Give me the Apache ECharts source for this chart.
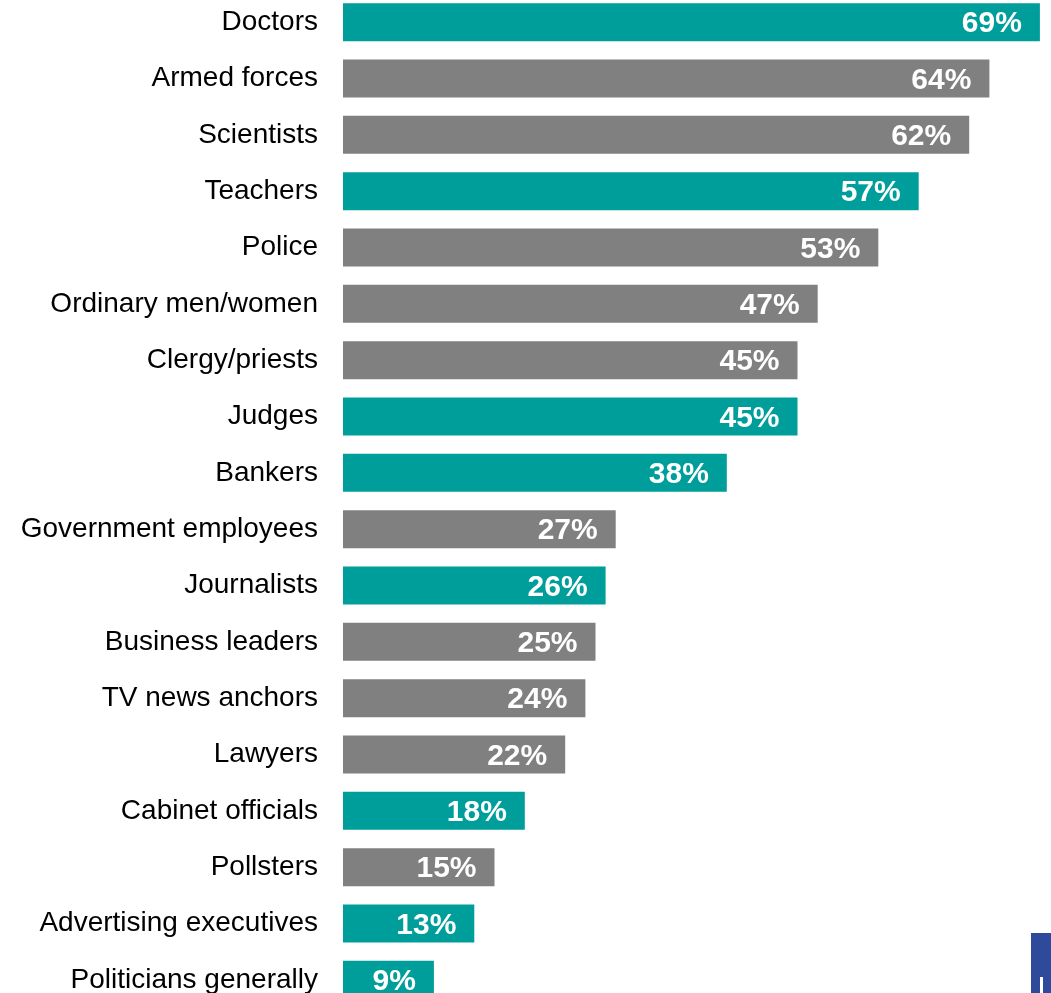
<!DOCTYPE html>
<html><head><meta charset="utf-8">
<script src="https://cdn.jsdelivr.net/npm/echarts@6/dist/echarts.min.js"></script>
<style>html,body{margin:0;padding:0;background:#fff;overflow:hidden;width:1051px;height:993px}#c{position:absolute;left:0;top:-6px;width:1051px;height:1014px}</style>
</head><body><div id="c"></div>
<script>
const categories = ["Doctors","Armed forces","Scientists","Teachers","Police","Ordinary men/women","Clergy/priests","Judges","Bankers","Government employees","Journalists","Business leaders","TV news anchors","Lawyers","Cabinet officials","Pollsters","Advertising executives","Politicians generally"];
const values = [69,64,62,57,53,47,45,45,38,27,26,25,24,22,18,15,13,9];
const highlighted = [true,false,false,true,false,false,false,true,true,false,true,false,false,false,true,false,true,true];
const TEAL = "#009E9A", GRAY = "#808080";

const chart = echarts.init(document.getElementById('c'));
chart.setOption({
  animation:false,
  grid:{left:343, top:0, width:707, height:1014, containLabel:false},
  xAxis:{type:'value', min:0, max:70, show:false},
  yAxis:{type:'category', inverse:true, data:categories,
    axisLine:{show:false}, axisTick:{show:false},
    axisLabel:{margin:25, fontSize:28, color:'#000', fontFamily:'Liberation Sans, Arial, sans-serif', offset:[0,-2]}},
  series:[{type:'bar', barWidth:38,
    data: values.map((v,i)=>({value:v, itemStyle:{color: highlighted[i]?TEAL:GRAY}})),
    label:{show:true, position:'insideRight', distance:18, formatter:'{c}%', color:'#fff', fontWeight:'bold', fontSize:30, fontFamily:'Liberation Sans, Arial, sans-serif', offset:[0,2]}
  }],
  graphic:[
    {type:'rect', shape:{x:1031,y:939,width:20,height:75}, style:{fill:'#2E4A9A'}},
    {type:'rect', shape:{x:1040,y:983,width:3,height:20}, style:{fill:'#fff'}}
  ]
});
</script></body></html>
